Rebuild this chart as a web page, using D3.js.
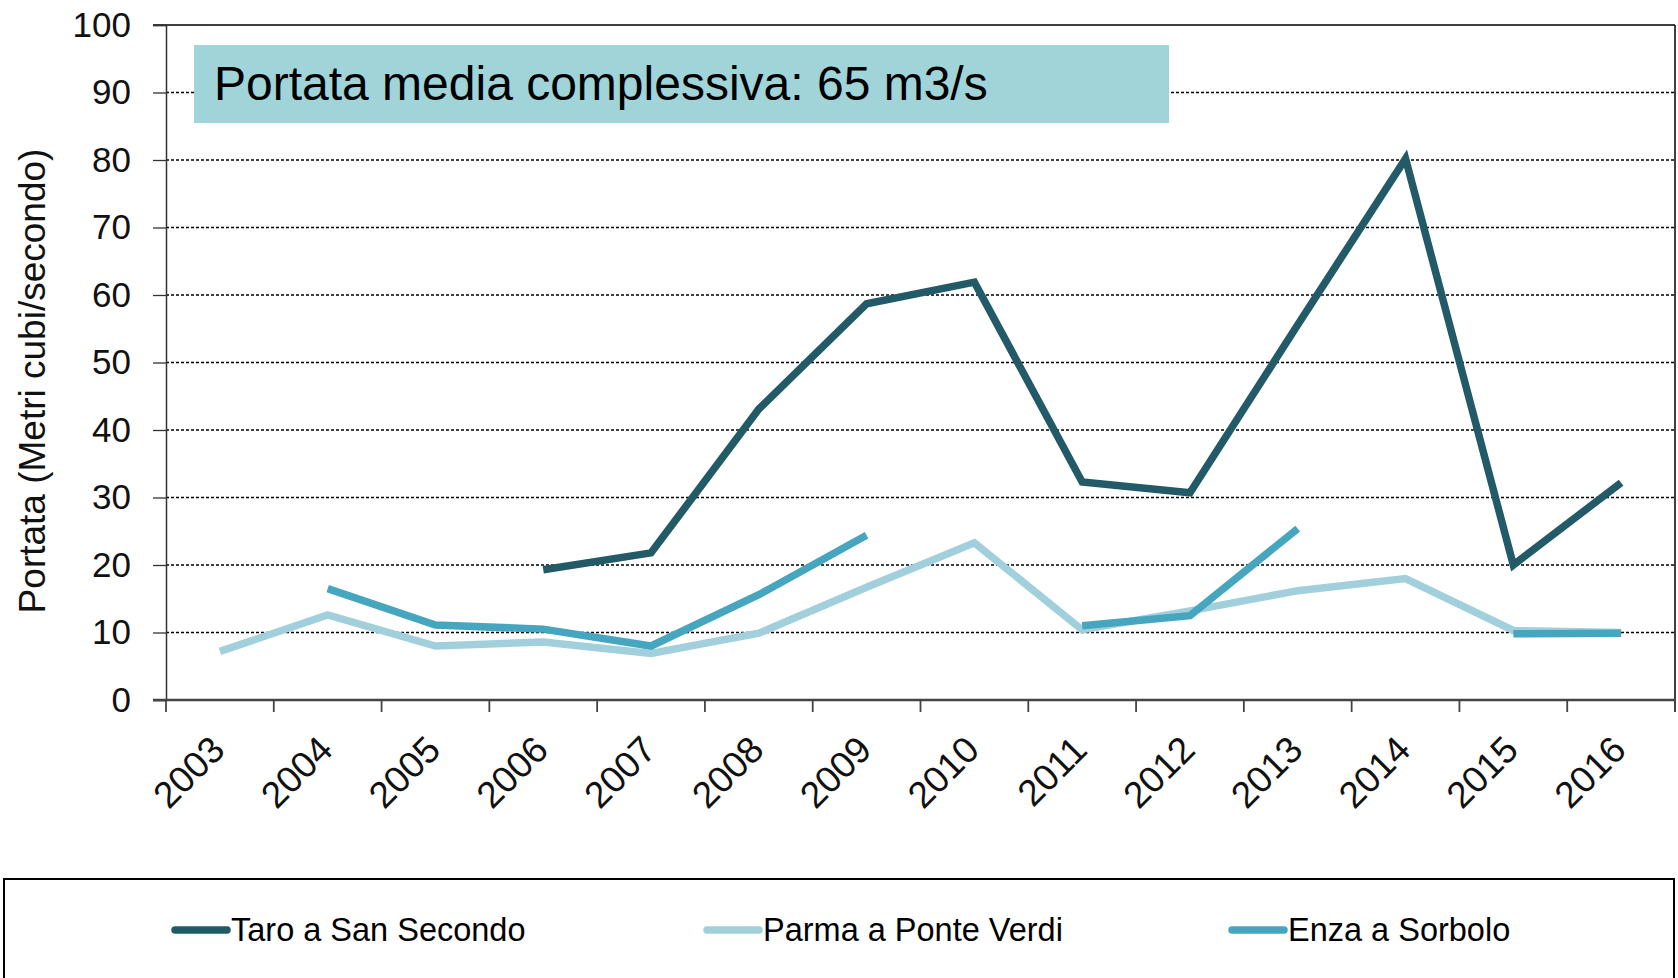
<!DOCTYPE html>
<html>
<head>
<meta charset="utf-8">
<script src="https://cdn.jsdelivr.net/npm/d3@7"></script>
<style>
    body { margin: 0; background: #fff; }
    svg { display: block; font-family: 'Liberation Sans', Arial, sans-serif; }
</style>
</head>
<body>
<svg></svg>
<script>
const years = ['2003', '2004', '2005', '2006', '2007', '2008', '2009', '2010', '2011', '2012', '2013', '2014', '2015', '2016'];
const yTicks = [0, 10, 20, 30, 40, 50, 60, 70, 80, 90, 100];

// m3/s per anno, null = dato mancante
const taro = [null, null, null, 19.3, 21.8, 43.1, 58.7, 61.9, 32.3, 30.7, 55.6, 80.2, 20.0, 32.2];
const parma = [7.2, 12.6, 8.0, 8.6, 6.9, 9.9, 16.7, 23.3, 10.4, 13.2, 16.2, 18.0, 10.3, 10.0];
const enza = [null, 16.5, 11.1, 10.5, 8.0, 15.6, 24.4, null, 11.0, 12.5, 25.4, null, 9.8, 9.9];

const seriesNames = ['Taro a San Secondo', 'Parma a Ponte Verdi', 'Enza a Sorbolo'];
const seriesColors = ['#235a68', '#a1d0dc', '#47a6bf'];
const note = 'Portata media complessiva: 65 m3/s';
const yTitle = 'Portata (Metri cubi/secondo)';

document.addEventListener('DOMContentLoaded', function () {
    const width = 1678;
    const height = 978;
    const plot = { left: 166, right: 1675, top: 25, bottom: 700 };

    const svg = d3.select('svg')
        .attr('width', width)
        .attr('height', height);

    const x = d3.scaleBand()
        .domain(years)
        .range([plot.left, plot.right]);

    const y = d3.scaleLinear()
        .domain([0, 100])
        .range([plot.bottom, plot.top]);

    // griglia tratteggiata
    svg.append('g')
        .selectAll('line')
        .data(yTicks.filter(t => t > 0 && t < 100))
        .enter().append('line')
        .attr('x1', plot.left)
        .attr('x2', plot.right)
        .attr('y1', d => y(d))
        .attr('y2', d => y(d))
        .attr('stroke', '#000')
        .attr('stroke-width', 1.3)
        .attr('stroke-dasharray', '3,2');

    // bordo alto e destro
    svg.append('line')
        .attr('x1', plot.left - 13).attr('x2', plot.right)
        .attr('y1', y(100)).attr('y2', y(100))
        .attr('stroke', '#000').attr('stroke-width', 1.5);
    svg.append('line')
        .attr('x1', plot.right).attr('x2', plot.right)
        .attr('y1', plot.top).attr('y2', plot.bottom + 12)
        .attr('stroke', '#000').attr('stroke-width', 1.5);

    // asse y
    const yAxis = svg.append('g')
        .attr('transform', `translate(${plot.left},0)`)
        .call(d3.axisLeft(y).tickValues(yTicks).tickSize(13).tickPadding(22));
    yAxis.select('.domain').attr('stroke', '#333').attr('stroke-width', 1.5);
    yAxis.selectAll('.tick line').attr('stroke', '#333').attr('stroke-width', 1.3);
    yAxis.selectAll('text')
        .attr('font-size', 35)
        .attr('fill', '#111')
        .attr('font-family', "'Liberation Sans', Arial, sans-serif");

    // asse x
    const xAxis = svg.append('g')
        .attr('transform', `translate(0,${plot.bottom})`)
        .call(d3.axisBottom(x).tickSize(0).tickPadding(0));
    xAxis.select('.domain').remove();
    xAxis.append('line')
        .attr('x1', plot.left - 13).attr('x2', plot.right)
        .attr('stroke', '#444').attr('stroke-width', 2.5);
    xAxis.selectAll('.boundary')
        .data(years.map(yr => x(yr)).concat([plot.right]))
        .enter().append('line')
        .attr('class', 'boundary')
        .attr('x1', d => d).attr('x2', d => d)
        .attr('y1', 0).attr('y2', 12)
        .attr('stroke', '#444').attr('stroke-width', 1.8);
    xAxis.selectAll('.tick text')
        .attr('font-size', 37)
        .attr('fill', '#111')
        .attr('font-family', "'Liberation Sans', Arial, sans-serif")
        .attr('text-anchor', 'end')
        .attr('dy', 0)
        .attr('transform', 'translate(7,52) rotate(-45)');

    // titolo asse y
    svg.append('text')
        .attr('transform', `translate(45,381) rotate(-90)`)
        .attr('text-anchor', 'middle')
        .attr('font-size', 37)
        .attr('fill', '#111')
        .text(yTitle);

    // serie
    const line = d3.line()
        .defined(d => d.v != null)
        .x(d => x(d.year) + x.bandwidth() / 2)
        .y(d => y(d.v));

    const series = [taro, parma, enza].map((vals, i) => ({
        name: seriesNames[i],
        color: seriesColors[i],
        values: years.map((yr, j) => ({ year: yr, v: vals[j] }))
    }));

    svg.append('g')
        .selectAll('path')
        .data(series)
        .enter().append('path')
        .attr('d', d => line(d.values))
        .attr('fill', 'none')
        .attr('stroke', d => d.color)
        .attr('stroke-width', 7.5)
        .attr('stroke-linejoin', 'miter')
        .attr('stroke-linecap', 'butt');

    // box nota
    svg.append('rect')
        .attr('x', 194).attr('y', 45)
        .attr('width', 975).attr('height', 78)
        .attr('fill', '#a0d4d8');
    svg.append('text')
        .attr('x', 214).attr('y', 100)
        .attr('font-size', 48)
        .attr('fill', '#000')
        .text(note);

    // legenda
    svg.append('rect')
        .attr('x', 4).attr('y', 879)
        .attr('width', 1670).attr('height', 140)
        .attr('fill', 'none')
        .attr('stroke', '#000')
        .attr('stroke-width', 2);

    const legendX = [175, 707, 1232];
    const legend = svg.append('g')
        .selectAll('g')
        .data(series)
        .enter().append('g')
        .attr('transform', (d, i) => `translate(${legendX[i]},930)`);
    legend.append('line')
        .attr('x1', 0).attr('x2', 52)
        .attr('stroke', d => d.color)
        .attr('stroke-width', 7.5)
        .attr('stroke-linecap', 'round');
    legend.append('text')
        .attr('x', 56).attr('y', 11)
        .attr('font-size', 32.5)
        .attr('fill', '#000')
        .text(d => d.name);
});
</script>
</body>
</html>
